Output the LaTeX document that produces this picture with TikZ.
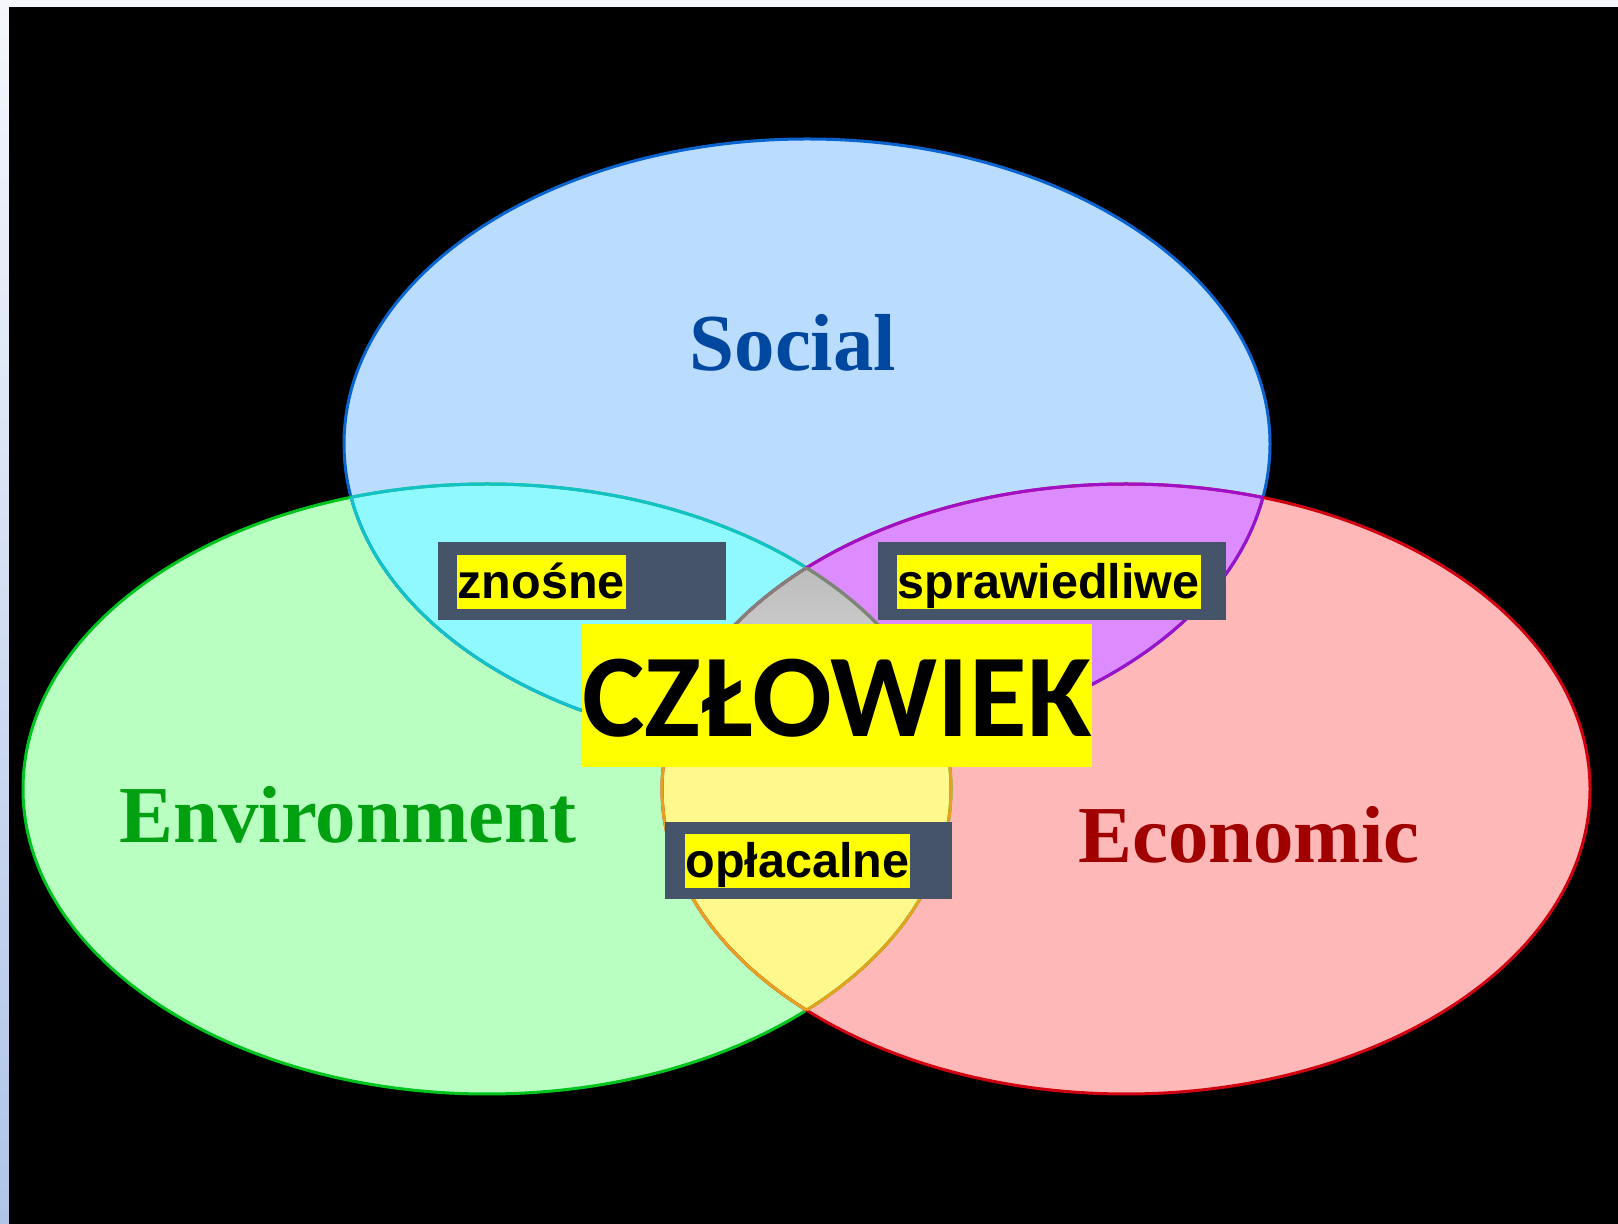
\documentclass[tikz,border=0pt]{standalone}
\usepackage{fontspec}
\setmainfont{Liberation Serif}
\setsansfont{Liberation Sans}
\newfontfamily\carlito{Carlito}
\usetikzlibrary{positioning}
\definecolor{colorbgt}{HTML}{F5F7FC}
\definecolor{colorbgb}{HTML}{B0C4E8}
\definecolor{colorso}{HTML}{0A64D0}
\definecolor{colorsofill}{HTML}{B9DCFF}
\definecolor{colorsotext}{HTML}{0047A0}
\definecolor{colorenv}{HTML}{00C41E}
\definecolor{colorenvfill}{HTML}{BAFFC2}
\definecolor{colorenvtext}{HTML}{00A010}
\definecolor{colorec}{HTML}{D00010}
\definecolor{colorecfill}{HTML}{FFB8B8}
\definecolor{colorectext}{HTML}{A00000}
\definecolor{colorcy}{HTML}{12C2C8}
\definecolor{colorcyfill}{HTML}{90F8FF}
\definecolor{colorpu}{HTML}{A010C8}
\definecolor{colorpufill}{HTML}{DC8CFF}
\definecolor{coloror}{HTML}{E8A020}
\definecolor{colororfill}{HTML}{FFF88C}
\definecolor{colorgr}{HTML}{808080}
\definecolor{colorgrt}{HTML}{BBBBBB}
\definecolor{colorgrb}{HTML}{E4E4E4}
\definecolor{colorbox}{HTML}{46546A}
\definecolor{colormark}{HTML}{FFFF00}
\tikzset{
  ring/.style={line width=0.3mm},
  boxdark/.style={fill=colorbox, inner sep=0pt, anchor=north west},
  marked/.style={fill=colormark, inner xsep=0.1mm, inner ysep=0pt, text height=4.4mm,
    text depth=1mm, anchor=base west,
    font=\sffamily\bfseries\fontsize{13.8pt}{16pt}\selectfont},
  venntext/.style={anchor=base, font=\bfseries\fontsize{23pt}{28pt}\selectfont}
}
\newcommand\pathso{(807,444) ellipse [x radius=46.3mm, y radius=30.5mm]}
\newcommand\pathenv{(487,789) ellipse [x radius=46.4mm, y radius=30.5mm]}
\newcommand\pathec{(1126,789) ellipse [x radius=46.4mm, y radius=30.5mm]}

\begin{document}
\begin{tikzpicture}[x=0.1mm, y=-0.1mm]
\useasboundingbox (0,0) rectangle (1618,1224);
\shade[top color=colorbgt, bottom color=colorbgb] (0,0) rectangle (1618,1224);
\fill[black] (9,7) rectangle (1618,1224);
% circles
\fill[colorsofill] \pathso;
\fill[colorenvfill] \pathenv;
\fill[colorecfill] \pathec;
\begin{scope}
  \clip \pathso;
  \fill[colorcyfill] \pathenv;
  \fill[colorpufill] \pathec;
\end{scope}
\begin{scope}
  \clip \pathenv;
  \fill[colororfill] \pathec;
\end{scope}
\begin{scope}
  \clip \pathso; \clip \pathenv; \clip \pathec;
  \shade[top color=colorgrt, bottom color=colorgrb] (700,560) rectangle (920,760);
\end{scope}
% outlines
\draw[ring, colorso] \pathso;
\draw[ring, colorenv] \pathenv;
\draw[ring, colorec] \pathec;
\begin{scope}
  \clip \pathso;
  \draw[ring, colorcy] \pathenv;
  \draw[ring, colorpu] \pathec;
\end{scope}
\begin{scope}
  \clip \pathenv;
  \draw[ring, colorcy] \pathso;
  \draw[ring, coloror] \pathec;
\end{scope}
\begin{scope}
  \clip \pathec;
  \draw[ring, colorpu] \pathso;
  \draw[ring, coloror] \pathenv;
\end{scope}
\begin{scope}
  \clip \pathso; \clip \pathenv;
  \draw[ring, colorgr] \pathec;
\end{scope}
\begin{scope}
  \clip \pathso; \clip \pathec;
  \draw[ring, colorgr] \pathenv;
\end{scope}
\begin{scope}
  \clip \pathenv; \clip \pathec;
  \draw[ring, colorgr] \pathso;
\end{scope}
% labels
\node[venntext, colorsotext] (soc) at (793,371) {Social};
\node[venntext, colorenvtext] (env) at (348,843) {Environment};
\node[venntext, colorectext] (eco) at (1249,863) {Economic};
\node[boxdark, minimum width=28.8mm, minimum height=7.8mm] (bz) at (437,541) {};
\node[marked] (tz) at (456,599) {znośne};
\node[boxdark, minimum width=34.8mm, minimum height=7.8mm] (bs) at (877,541) {};
\node[marked] (ts) at (896,599) {sprawiedliwe};
\node[boxdark, minimum width=28.7mm, minimum height=7.7mm] (bo) at (664,821) {};
\node[marked] (to) at (684,878) {opłacalne};
\node[fill=colormark, anchor=base, inner sep=0pt, minimum width=50.7mm, text height=11.3mm,
  text depth=3mm, font=\carlito\bfseries\fontsize{33.6pt}{38pt}\selectfont] (hum) at (837,737) {CZŁOWIEK};
\end{tikzpicture}
\end{document}
